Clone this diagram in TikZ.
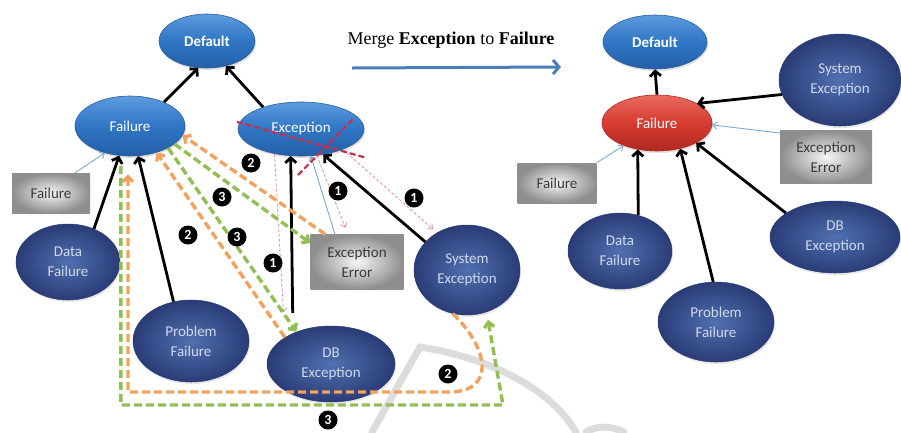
\documentclass[tikz,border=0pt]{standalone}
\usepackage{fontspec}
\setmainfont{Liberation Serif}
\newfontfamily\lblfam{Carlito}
\usetikzlibrary{arrows.meta,shapes.geometric,shadows,calc}

\definecolor{topA}{HTML}{5C9BDD}
\definecolor{topB}{HTML}{2F76C4}
\definecolor{topC}{HTML}{245FA6}
\definecolor{topEdge}{HTML}{2A5E9C}
\definecolor{lowIn}{HTML}{5070B0}
\definecolor{lowOut}{HTML}{2A3C76}
\definecolor{lowTxt}{HTML}{D2D8EC}
\definecolor{redA}{HTML}{E86A5E}
\definecolor{redB}{HTML}{D63C31}
\definecolor{redC}{HTML}{B02820}
\definecolor{boxIn}{HTML}{F6F6F6}
\definecolor{boxOut}{HTML}{8E8E8E}
\definecolor{boxTxt}{HTML}{3A3A3A}
\definecolor{orng}{HTML}{F2A15E}
\definecolor{grn}{HTML}{93BE55}
\definecolor{pnk}{HTML}{E49AA4}
\definecolor{thinBlue}{HTML}{7CA8D4}
\definecolor{crossRed}{HTML}{C8304C}
\definecolor{mergeBlue}{HTML}{4A7EBB}
\definecolor{wmark}{HTML}{DCDCDC}

\newcommand\lblfont{\lblfam\fontsize{15}{20}\selectfont}

\begin{document}
\begin{tikzpicture}[x=1pt,y=-1pt,
  every node/.style={font=\lblfont},
  topell/.style={ellipse, inner sep=0pt, align=center, draw=topEdge, line width=0.6pt,
    top color=topA, bottom color=topC, middle color=topB, text=white,
    drop shadow={opacity=0.25, shadow xshift=1pt, shadow yshift=-2pt}},
  lowell/.style={ellipse, inner sep=0pt, align=center, draw=lowOut, line width=0.5pt,
    inner color=lowIn, outer color=lowOut, text=lowTxt,
    drop shadow={opacity=0.2, shadow xshift=1pt, shadow yshift=-2pt}},
  redell/.style={ellipse, inner sep=0pt, align=center, draw=redC, line width=0.6pt,
    top color=redA, bottom color=redC, middle color=redB, text=white,
    drop shadow={opacity=0.25, shadow xshift=1pt, shadow yshift=-2pt}},
  greybox/.style={rectangle, inner sep=0pt, align=center,
    inner color=boxIn, outer color=boxOut, text=boxTxt},
  blk/.style={line width=2.8pt, black, -{Straight Barb[length=5pt,width=11pt]}},
  thinb/.style={line width=0.9pt, thinBlue, -{Straight Barb[length=4pt,width=7pt]}},
  orngdash/.style={line width=3.4pt, orng, dash pattern=on 8pt off 4pt,
    -{Straight Barb[length=5pt,width=10pt]}},
  grndash/.style={line width=3.4pt, grn, dash pattern=on 8pt off 4pt,
    -{Straight Barb[length=5pt,width=10pt]}},
  pnkdash/.style={line width=0.9pt, pnk, dash pattern=on 3pt off 2pt,
    -{Straight Barb[length=4pt,width=7pt]}},
  redx/.style={line width=2.2pt, crossRed, dash pattern=on 6pt off 3pt},
  numc/.style={circle, fill=black, text=white, inner sep=0pt, minimum size=19pt,
    font=\lblfam\bfseries\fontsize{14}{14}\selectfont},
  wm/.style={line width=7pt, wmark, line cap=round}
]
\useasboundingbox (0,0) rectangle (901,432);

% faint background mark
\draw[wm] (372,432) -- (420,347) .. controls (480,356) and (548,384) .. (576,432);
\draw[wm] (586,432) .. controls (596,426) and (610,425) .. (624,432);

% ---------- before the merge ----------
\node[topell, minimum width=96pt, minimum height=54pt, font=\lblfam\bfseries\fontsize{15}{18}\selectfont]
  (lDefault) at (207,41) {Default};
\node[topell, minimum width=110pt, minimum height=60pt] (lFailure) at (130,126) {Failure};
\node[topell, minimum width=126pt, minimum height=54pt] (lException) at (301,129) {Exception};
\node[greybox, minimum width=78pt, minimum height=40pt] (lFailBox) at (51,193) {Failure};
\node[lowell, minimum width=104pt, minimum height=76pt] (lData) at (68,262) {Data\\Failure};
\node[lowell, minimum width=116pt, minimum height=82pt] (lProblem) at (191,341) {Problem\\Failure};
\node[lowell, minimum width=128pt, minimum height=76pt] (lDB) at (331,364) {DB\\Exception};
\node[greybox, minimum width=93pt, minimum height=55pt] (lErrBox) at (357,262) {Exception\\Error};
\node[lowell, minimum width=106pt, minimum height=90pt] (lSystem) at (467,270) {System\\Exception};

% ---------- title and merge arrow ----------
\node[font=\fontsize{18}{20}\selectfont] (title) at (451,40)
  {Merge \textbf{Exception} to \textbf{Failure}};
\coordinate (mA) at (352,68);
\coordinate (mB) at (561,67);
\draw[line width=3pt, mergeBlue, -{Straight Barb[length=6pt,width=14pt]}] (mA) -- (mB);

% ---------- after the merge ----------
\node[topell, minimum width=104pt, minimum height=54pt, font=\lblfam\bfseries\fontsize{15}{18}\selectfont]
  (rDefault) at (655,42) {Default};
\node[redell, minimum width=110pt, minimum height=56pt] (rFailure) at (657,123) {Failure};
\node[lowell, minimum width=122pt, minimum height=92pt] (rSystem) at (840,80) {System\\Exception};
\node[greybox, minimum width=92pt, minimum height=53pt] (rErrBox) at (826,157) {Exception\\Error};
\node[greybox, minimum width=79pt, minimum height=40pt] (rFailBox) at (557,183) {Failure};
\node[lowell, minimum width=104pt, minimum height=76pt] (rData) at (620,251) {Data\\Failure};
\node[lowell, minimum width=116pt, minimum height=80pt] (rProblem) at (716,322) {Problem\\Failure};
\node[lowell, minimum width=130pt, minimum height=72pt] (rDB) at (835,237) {DB\\Exception};

% ---------- hierarchy links, left ----------
\draw[blk] (lFailure.35) -- (lDefault.252);
\draw[blk] (lException.150) -- (lDefault.307);
\draw[blk] (lData.52) -- (lFailure.250);
\draw[blk] (lProblem.114) -- (lFailure.285);
\draw[blk, shorten <=20pt] (lDB.141) -- (lException.249);
\draw[blk] (lSystem.146) -- (lException.311);
\draw[thinb] ([xshift=-22pt]lErrBox.north) -- (lException.290);
\draw[thinb] ([xshift=24pt]lFailBox.north) -- (lFailure.227);

% ---------- hierarchy links, right ----------
\draw[blk] (rFailure.north) -- (rDefault.south);
\draw[blk] (rSystem.194) -- (rFailure.26);
\draw[thinb] ([yshift=24pt]rErrBox.west) -- (rFailure.358);
\draw[thinb] (rFailBox.north east) -- (rFailure.214);
\draw[blk] (rData.63) -- (rFailure.234);
\draw[blk] (rProblem.94) -- (rFailure.312);
\draw[blk] (rDB.154) -- (rFailure.333);

% ---------- step 1: detach children of Exception ----------
\draw[pnkdash, shorten >=25pt] (lException.223) -- (lDB.150);
\draw[pnkdash, shorten >=7pt] (lException.301) -- ([xshift=-9pt]lErrBox.north);
\draw[pnkdash, shorten >=5pt] (lException.334) -- (lSystem.129);

% ---------- step 2 / step 3: re-attach to Failure ----------
\draw[orngdash] ([xshift=15pt]lErrBox.north west) -- (lFailure.350);
\draw[grndash] (lFailure.338) -- ([yshift=19pt]lErrBox.west);
\draw[orngdash] (lDB.150) -- (lFailure.315);
\draw[grndash] (lFailure.330) -- (lDB.137);
\draw[orngdash, shorten >=18pt] (lSystem.252) .. controls (490,350) and (494,390) .. (452,392)
  -| ([xshift=-2pt]lFailure.south);
\draw[grndash, shorten <=10pt, shorten >=8pt] (lFailure.253) |- (503,405) -- (lSystem.295);

% Exception removed
\draw[redx] ($(lException)+(-64,-7)$) -- ($(lException)+(66,29)$);
\draw[redx] ($(lException)+(-3,46)$) -- ($(lException)+(54,-12)$);

% ---------- step markers ----------
\node[numc] (s2a) at (251,163) {2};
\node[numc] (s3a) at (222,197) {3};
\node[numc] (s1a) at (338,191) {1};
\node[numc] (s1b) at (414,198) {1};
\node[numc] (s2b) at (188,235) {2};
\node[numc] (s3b) at (237,237) {3};
\node[numc] (s1c) at (273,263) {1};
\node[numc] (s2c) at (448,374) {2};
\node[numc] (s3c) at (328,420) {3};
\end{tikzpicture}
\end{document}
